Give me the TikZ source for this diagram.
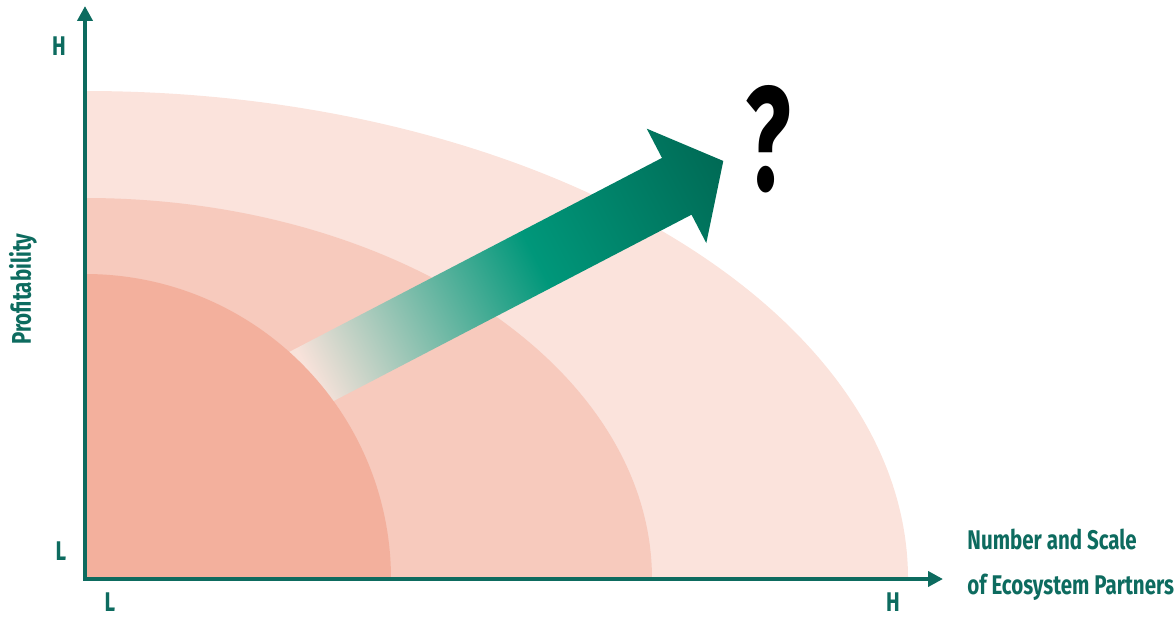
\documentclass[tikz,border=0pt]{standalone}
\usepackage{fontspec}
\setmainfont{Fira Sans}[FakeStretch=0.76]
\newfontfamily\askfont{Fira Sans}[FakeStretch=0.64]
\usepackage{xcolor}
\definecolor{cAxis}{HTML}{0D6B5F}
\definecolor{cRingOut}{HTML}{FBE3DC}
\definecolor{cRingMid}{HTML}{F7CABD}
\definecolor{cRingIn}{HTML}{F3B09D}
\definecolor{cFadePale}{HTML}{F8E2DA}
\definecolor{cFadeGreen}{HTML}{00977A}
\definecolor{cFadeDark}{HTML}{006A55}
\usetikzlibrary{arrows.meta}
\pgfdeclarehorizontalshading{arrowfade}{100bp}{color(0bp)=(cFadePale); color(31bp)=(cFadePale); color(55bp)=(cFadeGreen); color(75bp)=(cFadeDark); color(100bp)=(cFadeDark)}
\tikzset{
  axis-line/.style={draw=cAxis,line width=2.3pt,
    {Triangle[length=7.5pt,width=7.5pt]}-{Triangle[length=7.5pt,width=7.5pt]}},
  axis-tag/.style={text=cAxis,font=\fontsize{13.5}{15}\selectfont\bfseries,inner sep=0pt},
  ask-mark/.style={text=black,font=\askfont\fontsize{74}{74}\selectfont\bfseries,inner sep=0pt},
}

\begin{document}
\begin{tikzpicture}[x=0.5pt,y=0.5pt]
  \useasboundingbox (0,0) rectangle (1176,617);
  \coordinate (origin) at (85,38);
  % rings, outer to inner
  \fill[cRingOut] (origin) -- ++(823,0) arc[start angle=0,end angle=90,x radius=823,y radius=488] -- cycle;
  \fill[cRingMid] (origin) -- ++(567,0) arc[start angle=0,end angle=90,x radius=567,y radius=381] -- cycle;
  % growth arrow, its tail goes under the inner ring
  \begin{scope}[transform canvas={shift={(293,267)},rotate=27.5}]
    \shade[shading=arrowfade] (-60,0) -- (416,0) -- (416,33) -- (469,-31)
      -- (416,-96) -- (416,-64) -- (-60,-64) -- cycle;
  \end{scope}
  \fill[cRingIn] (origin) -- ++(306,0) arc[start angle=0,end angle=90,x radius=306,y radius=305] -- cycle;
  % axes
  \coordinate (x-end) at (943,38);
  \coordinate (y-end) at (85,611);
  \draw[axis-line] (y-end) -- (origin) -- (x-end);
  \node[axis-tag,anchor=base] (y-high) at (59,561) {H};
  \node[axis-tag,anchor=base] (y-low) at (61,57) {L};
  \node[axis-tag,anchor=base] (x-low) at (110,6) {L};
  \node[axis-tag,anchor=base] (x-high) at (893,6) {H};
  \node[axis-tag,rotate=90] (y-title) at (23,328) {Profitability};
  \node[axis-tag,anchor=base west] (x-title-top) at (967,68) {Number and Scale};
  \node[axis-tag,anchor=base west] (x-title-bot) at (967,23) {of Ecosystem Partners};
  \node[ask-mark] (ask) at (768,478) {?};
\end{tikzpicture}
\end{document}
